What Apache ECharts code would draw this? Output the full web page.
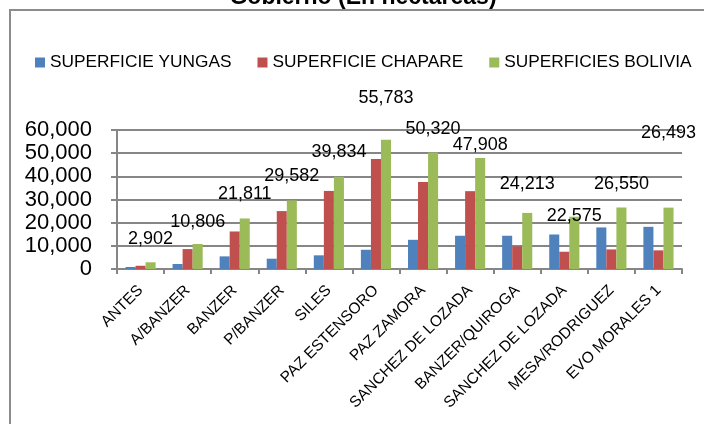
<!DOCTYPE html>
<html>
<head>
<meta charset="utf-8">
<script src="https://cdn.jsdelivr.net/npm/echarts@6/dist/echarts.min.js"></script>
<style>
  html, body { margin: 0; padding: 0; background: #fff; }
  #chart { width: 704px; height: 424px; }
</style>
</head>
<body>
<div id="chart"></div>
<script>
const categories = ['ANTES', 'A/BANZER', 'BANZER', 'P/BANZER', 'SILES', 'PAZ ESTENSORO', 'PAZ ZAMORA',
  'SANCHEZ DE LOZADA', 'BANZER/QUIROGA', 'SANCHEZ DE LOZADA', 'MESA/RODRIGUEZ', 'EVO MORALES 1']
const seriesNames = ['SUPERFICIE YUNGAS', 'SUPERFICIE CHAPARE', 'SUPERFICIES BOLIVIA']
const yungas = [860, 2150, 5450, 4450, 5900, 8300, 12600, 14350, 14350, 14900, 17950, 18200]
const chapare = [1400, 8600, 16200, 25000, 33700, 47500, 37600, 33600, 9750, 7450, 8450, 8050]
const bolivia = [2902, 10806, 21811, 29582, 39834, 55783, 50320, 47908, 24213, 22575, 26550, 26493]
const yTicks = [0, 10000, 20000, 30000, 40000, 50000, 60000]

const FONT = '"Liberation Sans", Arial, sans-serif'
const fmt = v => Number(v).toLocaleString('en-US')

// how far (px) each Bolivia label sits above its bar, as Excel placed them
const labelLift = [23, 22, 24, 24, 25, 42, 23, 13, 29, 1, 23, 75]

const chart = echarts.init(document.getElementById('chart'))

const option = {
  animation: false,
  color: ['#4F81BD', '#C0504D', '#9BBB59'],
  graphic: [
    {
      type: 'rect',
      shape: { x: 10, y: 10, width: 720, height: 430 },
      style: { fill: 'none', stroke: '#8c8c8c', lineWidth: 2 },
      z: 0
    },
    {
      type: 'text',
      x: 363,
      y: -2,
      style: {
        text: 'Gobierno (En hectareas)',
        font: 'bold 23px ' + FONT,
        fill: '#000',
        align: 'center',
        verticalAlign: 'middle'
      },
      z: 10
    }
  ],
  legend: {
    data: seriesNames,
    left: 35,
    top: 54,
    padding: 0,
    itemWidth: 10,
    itemHeight: 10,
    itemGap: 26,
    icon: 'rect',
    textStyle: { fontFamily: FONT, fontSize: 17.3, color: '#000' }
  },
  grid: { left: 117, right: 22, top: 130, bottom: 155 },
  xAxis: {
    type: 'category',
    data: categories,
    axisLine: { lineStyle: { color: '#868686', width: 2 } },
    axisTick: { show: true, length: 5, lineStyle: { color: '#868686', width: 2 } },
    axisLabel: {
      interval: 0,
      rotate: 45,
      margin: 19,
      padding: [11, 0, 0, 0],
      fontFamily: FONT,
      fontSize: 15.5,
      color: '#000'
    }
  },
  yAxis: {
    type: 'value',
    min: yTicks[0],
    max: yTicks[yTicks.length - 1],
    interval: yTicks[1] - yTicks[0],
    axisLine: { show: true, lineStyle: { color: '#868686', width: 2 } },
    axisTick: { show: true, length: 6, lineStyle: { color: '#868686', width: 2 } },
    splitLine: { lineStyle: { color: '#868686', width: 2 } },
    axisLabel: {
      margin: 25,
      showMinLabel: true,
      showMaxLabel: true,
      hideOverlap: false,
      fontFamily: FONT,
      fontSize: 22,
      color: '#000',
      formatter: fmt
    }
  },
  series: [
    {
      name: seriesNames[0],
      type: 'bar',
      data: yungas,
      barGap: '0%',
      barCategoryGap: '36%'
    },
    {
      name: seriesNames[1],
      type: 'bar',
      data: chapare
    },
    {
      name: seriesNames[2],
      type: 'bar',
      data: bolivia.map((v, i) => ({
        value: v,
        label: { offset: [0, -(labelLift[i] - 9)] }
      })),
      label: {
        show: true,
        position: 'top',
        distance: 0,
        fontFamily: FONT,
        fontSize: 18,
        color: '#000',
        formatter: p => fmt(p.value)
      }
    }
  ]
}

chart.setOption(option)
</script>
</body>
</html>
